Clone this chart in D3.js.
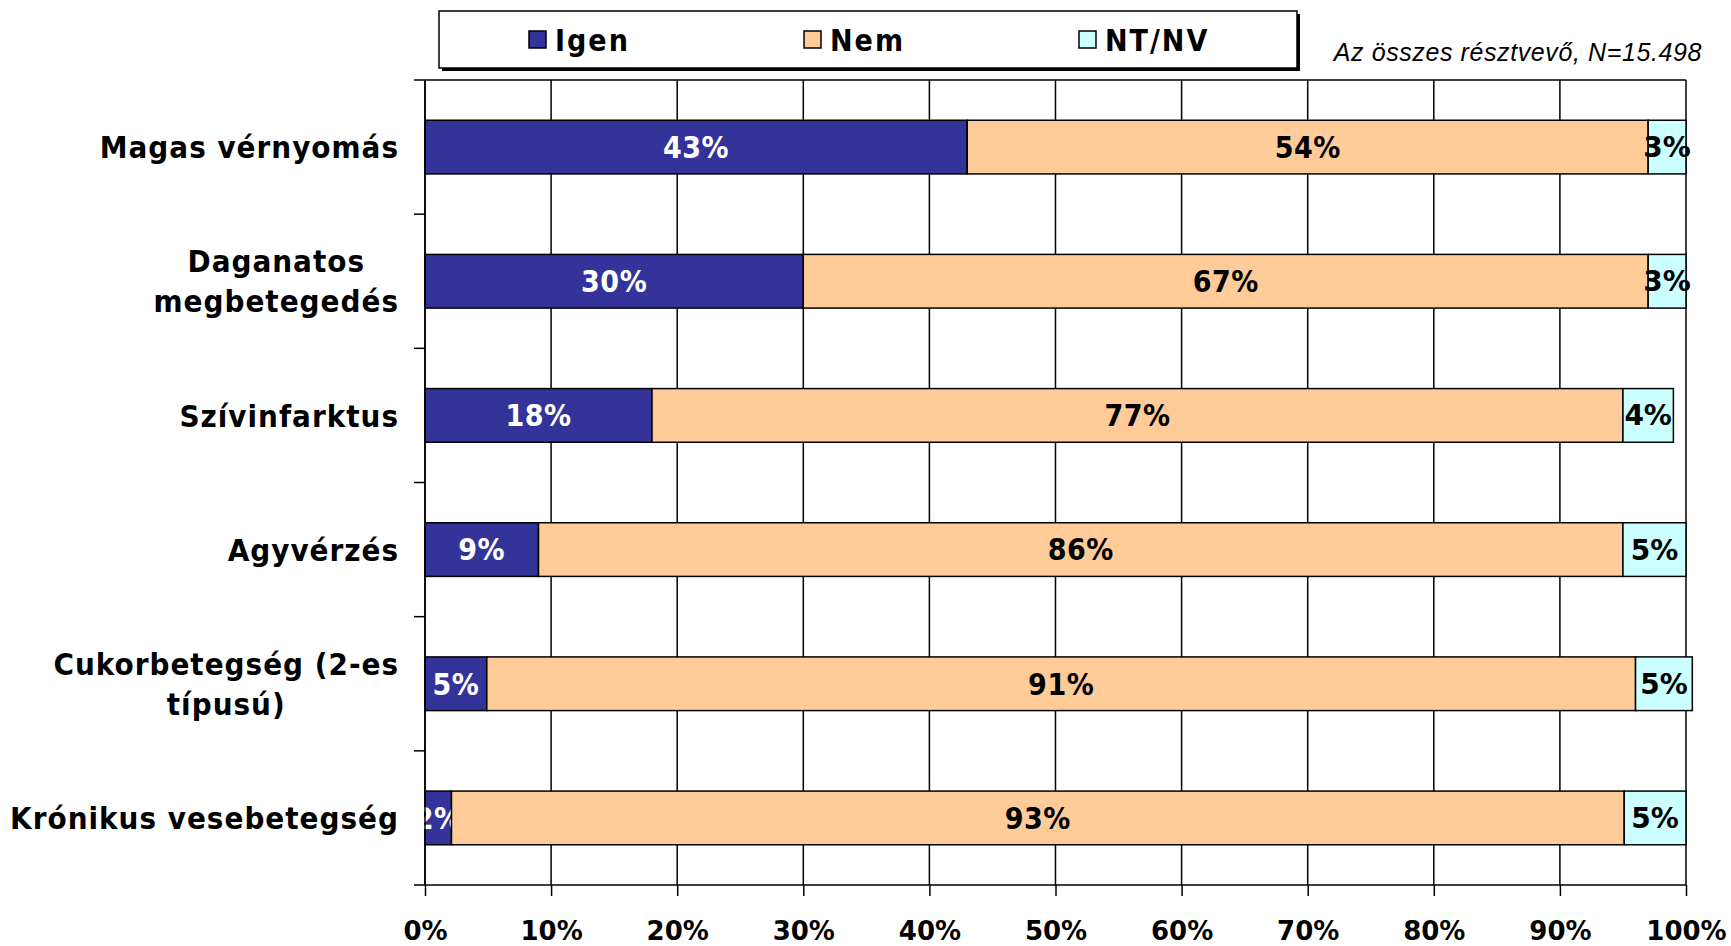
<!DOCTYPE html>
<html>
<head>
<meta charset="utf-8">
<style>
  body { margin: 0; background: #fff; }
  svg text { font-family: "DejaVu Sans", Verdana, sans-serif; }
  svg text.cond { font-family: "DejaVu Sans Condensed", "DejaVu Sans", sans-serif; font-stretch: condensed; }
</style>
</head>
<body>
<script src="https://cdn.jsdelivr.net/npm/d3@7"></script>
<script>
// categories, top to bottom (multi-line labels split on "|")
var categories = ["Magas vérnyomás", "Daganatos|megbetegedés", "Szívinfarktus",
                  "Agyvérzés", "Cukorbetegség (2-es|típusú)", "Krónikus vesebetegség"];
var seriesNames = ["Igen", "Nem", "NT/NV"];
var igen = [43, 30, 18, 9, 4.9, 2.1];
var nem  = [54, 67, 77, 86, 91.1, 93];
var ntnv = [3, 3, 4, 5, 4.5, 4.9];
var xTicks = [0, 10, 20, 30, 40, 50, 60, 70, 80, 90, 100];
var note = "Az összes résztvevő, N=15.498";

var colors = ["#333399", "#FFCC99", "#CCFFFF"];
var labelColors = ["#fff", "#000", "#000"];

var W = 1731, H = 946;
var margin = { left: 425, right: 45, top: 80, bottom: 61 };
var pw = W - margin.left - margin.right, ph = H - margin.top - margin.bottom;

var svg = d3.select("body").append("svg").attr("width", W).attr("height", H);

// build stacked rows
var rows = categories.map(function (c, i) {
  return { cat: c, vals: [igen[i], nem[i], ntnv[i]] };
});
var stack = d3.stack().keys([0, 1, 2]).value(function (d, k) { return d.vals[k]; });
var layers = stack(rows);

var x = d3.scaleLinear().domain([0, 100]).range([0, pw]);
var y = d3.scaleBand().domain(categories).range([0, ph]).paddingInner(0.6).paddingOuter(0.3);

var g = svg.append("g").attr("transform", "translate(" + margin.left + "," + margin.top + ")");

// vertical gridlines
g.selectAll(".grid").data(xTicks).enter().append("line")
  .attr("x1", function (d) { return x(d); }).attr("x2", function (d) { return x(d); })
  .attr("y1", 0).attr("y2", ph)
  .attr("stroke", "#000").attr("stroke-width", 1.5);
// top border
g.append("line").attr("x1", 0).attr("x2", pw).attr("y1", 0).attr("y2", 0)
  .attr("stroke", "#000").attr("stroke-width", 1.5);

// bars
layers.forEach(function (layer, k) {
  var gg = g.append("g");
  gg.selectAll("rect").data(layer).enter().append("rect")
    .attr("x", function (d) { return x(d[0]); })
    .attr("width", function (d) { return x(d[1]) - x(d[0]); })
    .attr("y", function (d) { return y(d.data.cat); })
    .attr("height", y.bandwidth())
    .attr("fill", colors[k])
    .attr("stroke", "#000").attr("stroke-width", 1.5);
  gg.selectAll("text").data(layer).enter().append("text")
    .attr("class", k < 2 ? "cond" : null)
    .attr("x", function (d) { return x((d[0] + d[1]) / 2); })
    .attr("y", function (d) { return y(d.data.cat) + y.bandwidth() / 2; })
    .attr("dy", "0.36em")
    .attr("text-anchor", "middle")
    .attr("fill", labelColors[k])
    .style("font-size", k < 2 ? "30px" : "28px").style("font-weight", "bold")
    .style("letter-spacing", k < 2 ? "0.5px" : "0px")
    .text(function (d) { return Math.round(d[1] - d[0]) + "%"; });
});

// x axis
var xAxis = d3.axisBottom(x).tickValues(xTicks).tickSize(11).tickPadding(26)
  .tickFormat(function (d) { return d + "%"; });
var xa = g.append("g").attr("transform", "translate(0," + ph + ")").call(xAxis);
xa.select(".domain").attr("stroke-width", 1.5).attr("d", "M0,0H" + pw);
xa.selectAll(".tick line").attr("stroke-width", 1.5);
xa.selectAll("text").style("font-size", "26px").style("font-weight", "bold")
  .attr("fill", "#000").style("font-family", "'DejaVu Sans', Verdana, sans-serif");

// y axis: line + ticks at band boundaries
g.append("line").attr("x1", 0).attr("x2", 0).attr("y1", 0).attr("y2", ph)
  .attr("stroke", "#000").attr("stroke-width", 1.5);
var bounds = d3.range(categories.length + 1).map(function (i) { return i * ph / categories.length; });
g.selectAll(".ytick").data(bounds).enter().append("line")
  .attr("x1", -11).attr("x2", 0)
  .attr("y1", function (d) { return d; }).attr("y2", function (d) { return d; })
  .attr("stroke", "#000").attr("stroke-width", 1.5);

// category labels
categories.forEach(function (c) {
  var lines = c.split("|");
  var t = g.append("text").attr("class", "cond").attr("text-anchor", "middle")
    .style("font-size", "31px").style("font-weight", "bold").style("letter-spacing", "1px");
  var cy = y(c) + y.bandwidth() / 2;
  var lh = 40;
  lines.forEach(function (l, i) {
    t.append("tspan").attr("y", cy + (i - (lines.length - 1) / 2) * lh).attr("dy", "0.36em").text(l);
  });
  var wmax = 0;
  t.selectAll("tspan").each(function () { wmax = Math.max(wmax, this.getComputedTextLength()); });
  t.selectAll("tspan").attr("x", -26 - wmax / 2);
});

// legend
var lg = svg.append("g").attr("transform", "translate(439,11)");
lg.append("rect").attr("x", 3).attr("y", 3).attr("width", 858).attr("height", 57).attr("fill", "#000");
lg.append("rect").attr("width", 858).attr("height", 57).attr("fill", "#fff")
  .attr("stroke", "#000").attr("stroke-width", 1.5);
var lx = d3.scalePoint().domain(seriesNames).range([90, 640]);
seriesNames.forEach(function (s, k) {
  lg.append("rect").attr("x", lx(s)).attr("y", 20).attr("width", 17).attr("height", 17)
    .attr("fill", colors[k]).attr("stroke", "#000").attr("stroke-width", 1.5);
  lg.append("text").attr("class", "cond").attr("x", lx(s) + 26).attr("y", 29).attr("dy", "0.36em")
    .style("font-size", "30px").style("font-weight", "bold").style("letter-spacing", "2px")
    .text(s);
});

// note
svg.append("text").attr("x", W - 29).attr("y", 61).attr("text-anchor", "end")
  .style("font-family", "'Liberation Sans', Arial, sans-serif")
  .style("font-style", "italic").style("font-size", "25px").style("letter-spacing", "0.6px")
  .text(note);
</script>
</body>
</html>
